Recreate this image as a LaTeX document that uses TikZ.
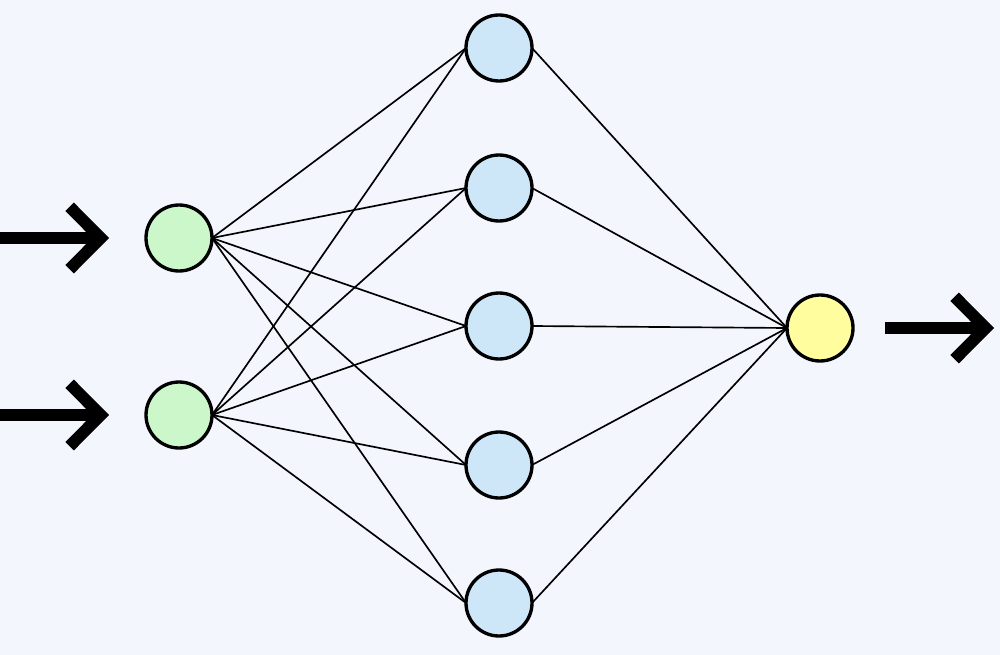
\documentclass[tikz,border=0pt]{standalone}
\usetikzlibrary{arrows.meta}
\definecolor{bg}{HTML}{F3F6FD}
\definecolor{ingreen}{HTML}{CCF7CA}
\definecolor{hidblue}{HTML}{CDE7F9}
\definecolor{outyellow}{HTML}{FFFD9E}
\pgfdeclarelayer{backlayer}
\pgfdeclarelayer{edgelayer}
\pgfsetlayers{backlayer,edgelayer,main}
\begin{document}
\begin{tikzpicture}[x=0.02cm,y=-0.02cm,
  neuron/.style={circle,draw=black,line width=1.9pt,minimum size=1.32cm,inner sep=0pt,outer sep=0pt},
  inneuron/.style={neuron,fill=ingreen},
  hidneuron/.style={neuron,fill=hidblue},
  outneuron/.style={neuron,fill=outyellow},
  edge/.style={draw=black,line width=0.95pt},
  bigarrow/.style={line width=6.8pt,-{Straight Barb[length=0.62cm,width=1.25cm,line width=6.8pt]}}
]
\begin{pgfonlayer}{backlayer}
\fill[bg] (0,0) rectangle (1000,655);
\end{pgfonlayer}
\useasboundingbox (0,0) rectangle (1000,655);
% nodes
\node[inneuron] (g1) at (179,238) {};
\node[inneuron] (g2) at (179,415) {};
\node[hidneuron] (b1) at (499,48) {};
\node[hidneuron] (b2) at (499,188) {};
\node[hidneuron] (b3) at (499,326) {};
\node[hidneuron] (b4) at (499,465) {};
\node[hidneuron] (b5) at (499,603) {};
\node[outneuron] (y) at (820,328) {};
% edges
\begin{pgfonlayer}{edgelayer}
\foreach \g in {g1,g2}{
  \foreach \b in {b1,b2,b3,b4,b5}{
    \draw[edge] (\g.east) -- (\b.west);
  }
}
\foreach \b in {b1,b2,b3,b4,b5}{
  \draw[edge] (\b.east) -- (y.west);
}
\end{pgfonlayer}
% arrows
\coordinate (in1) at (0,238);
\coordinate (in1t) at (109,238);
\coordinate (in2) at (0,415);
\coordinate (in2t) at (109,415);
\coordinate (out) at (885,328);
\coordinate (outt) at (994,328);
\draw[bigarrow] (in1) -- (in1t);
\draw[bigarrow] (in2) -- (in2t);
\draw[bigarrow] (out) -- (outt);
\end{tikzpicture}
\end{document}
